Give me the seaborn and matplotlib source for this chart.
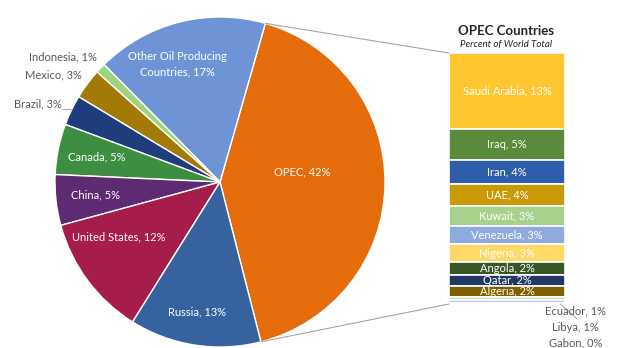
import matplotlib
matplotlib.use("Agg")
import matplotlib.pyplot as plt
import numpy as np
import pandas as pd
import seaborn as sns
from matplotlib.patches import ConnectionPatch

# ---------------- data ----------------
pie_names = ["OPEC", "Other Oil Producing\nCountries", "Indonesia", "Mexico", "Brazil",
             "Canada", "China", "United States", "Russia"]
pie_values = [42, 17, 1, 3, 3, 5, 5, 12, 13]

opec_names = ["Saudi Arabia", "Iraq", "Iran", "UAE", "Kuwait", "Venezuela", "Nigeria",
              "Angola", "Qatar", "Algeria", "Ecuador", "Libya", "Gabon"]
opec_values = [13.0, 5.2, 4.1, 3.8, 3.4, 3.0, 3.1, 2.2, 1.8, 1.9, 0.55, 0.5, 0.15]
opec_pct_labels = [13, 5, 4, 4, 3, 3, 3, 2, 2, 2, 1, 1, 0]

title = "OPEC Countries"
subtitle = "Percent of World Total"

# ---------------- style ----------------
sns.set_theme(style="white")
plt.rcParams["font.family"] = ["Lato", "DejaVu Sans"]

pie_colors = ["#E46C0A", "#6E94D6", "#9DD47F", "#A37A05", "#1F3D7A",
              "#3E8E41", "#5E2B72", "#A61C4A", "#36639F"]
bar_colors = ["#FFC62F", "#5A8B3A", "#2E5EAA", "#C99A06", "#A9D18E", "#8FAADC",
              "#FFD966", "#385723", "#203864", "#7F6000", "#C5E0B4", "#B4C7E7", "#FFE699"]

W, H = 617, 348
fig = plt.figure(figsize=(W / 100, H / 100), dpi=100)
fig.patch.set_facecolor("white")

# pie axes: centre (220,182) px, radius 165 px
cx, cy, R = 220, 182, 165
ax = fig.add_axes([(cx - R) / W, (H - cy - R) / H, 2 * R / W, 2 * R / H])
total = sum(pie_values)
start = -pie_values[0] / total * 360 / 2 - 0.8
wedges, _ = ax.pie(pie_values, colors=pie_colors, startangle=start, counterclock=True,
                   wedgeprops=dict(edgecolor="white", linewidth=1.0), radius=1.0)
ax.set_xlim(-1, 1)
ax.set_ylim(-1, 1)
ax.set_aspect("equal")
ax.axis("off")

# label placement (radius, angle offset, inside?)
lab_r = [0.5, 0.76, 1.06, 1.06, 1.07, 0.76, 0.76, 0.70, 0.80]
lab_dt = [7.8, 5.3, -1.9, -1.4, -0.6, 0, -0.2, -8.2, -1.2]
inside = [True, True, False, False, False, True, True, True, True]
fs = 8
for w, name, val, r, dt, ins in zip(wedges, pie_names, pie_values, lab_r, lab_dt, inside):
    mid = (w.theta1 + w.theta2) / 2 + dt
    x, y = r * np.cos(np.radians(mid)), r * np.sin(np.radians(mid))
    txt = f"{name}, {val}%"
    if ins:
        ax.text(x, y, txt, ha="center", va="center", color="white", fontsize=fs,
                linespacing=1.5)
    else:
        ax.text(x, y, txt, ha="right", va="center", color="#595959", fontsize=fs)

# Brazil leader line
wb = wedges[4]
ang = np.radians((wb.theta1 + wb.theta2) / 2 + 0.2)
ax.plot([1.07 * np.cos(ang) + 0.005, 1.0 * np.cos(ang)],
        [1.07 * np.sin(ang) - 0.02, 1.07 * np.sin(ang) - 0.02],
        color="#A6A6A6", lw=0.8, clip_on=False)

# ---------------- stacked bar ----------------
bx0, bx1, by0, by1 = 449, 565, 53, 304
bax = fig.add_axes([bx0 / W, (H - by1) / H, (bx1 - bx0) / W, (by1 - by0) / H])
df = pd.DataFrame({"country": opec_names, "value": opec_values, "pct": opec_pct_labels})
df["bottom"] = df["value"].cumsum() - df["value"]
bars = bax.bar([0] * len(df), df["value"], bottom=df["bottom"], width=1.0,
               color=bar_colors, edgecolor="white", linewidth=1.2)
btot = df["value"].sum()
bax.set_xlim(-0.5, 0.5)
bax.set_ylim(btot, 0)
bax.axis("off")

for i, row in df.iterrows():
    if i < 10:
        bax.text(0, row["bottom"] + row["value"] / 2, f"{row['country']}, {row['pct']}%",
                 ha="center", va="center", color="white", fontsize=fs)

out_y = [-0.028, -0.092, -0.156]
for k, i in enumerate(range(10, 13)):
    row = df.iloc[i]
    bax.text(1.09, out_y[k], f"{row['country']}, {row['pct']}%", transform=bax.transAxes,
             ha="center", va="center", color="#595959", fontsize=fs, clip_on=False)
bax.plot([0.96, 1.10], [0.0, -0.058], transform=bax.transAxes, color="#A6A6A6",
         lw=0.7, clip_on=False)

# connector lines from OPEC slice edges to the bar
wo = wedges[0]
for theta, yb in [(wo.theta2, 0), (wo.theta1, btot)]:
    p = (np.cos(np.radians(theta)), np.sin(np.radians(theta)))
    con = ConnectionPatch(xyA=p, coordsA=ax.transData, xyB=(-0.5, yb), coordsB=bax.transData,
                          color="#A6A6A6", lw=0.8)
    fig.add_artist(con)

fig.text(506 / W, 1 - 31 / H, title, ha="center", va="center", fontsize=9.5,
         fontweight="bold", color="#262626")
fig.text(506 / W, 1 - 45 / H, subtitle, ha="center", va="center", fontsize=7,
         fontstyle="italic", color="#262626")

fig.savefig("out.png", dpi=100)
